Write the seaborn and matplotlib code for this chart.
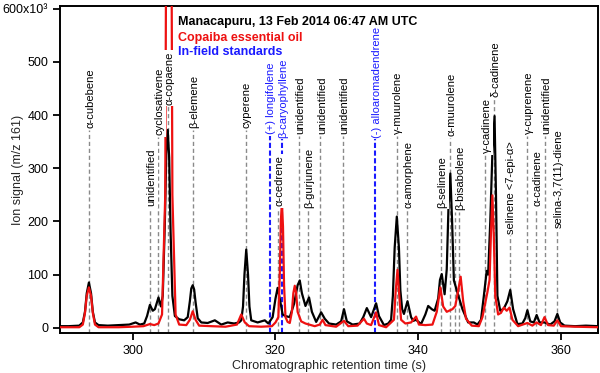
import matplotlib
matplotlib.use("Agg")
import matplotlib.pyplot as plt
import seaborn as sns

# Manacapuru chromatogram (m/z 161), signal in units of 10^3
t_air = [289.8, 291.0, 292.5, 293.0, 293.3, 293.55, 293.85, 294.15, 294.4, 294.7, 295.2, 296.5,
         298.0, 299.5, 300.4, 301.0, 301.6, 302.0, 302.4, 302.8, 303.1, 303.6, 303.95, 304.2,
         304.5, 304.7, 304.9, 305.1, 305.3, 305.55, 305.9, 306.5, 307.2, 307.7, 308.0, 308.2,
         308.4, 308.6, 308.8, 309.1, 309.6, 310.5, 311.5, 312.4, 313.3, 314.2, 314.9, 315.2,
         315.45, 315.65, 315.9, 316.15, 316.35, 316.6, 317.5, 318.5, 319.0, 319.6, 320.0, 320.3,
         320.6, 321.0, 321.4, 322.0, 322.6, 323.1, 323.4, 323.7, 324.2, 324.7, 325.1, 325.7,
         326.4, 326.9, 327.5, 328.5, 329.2, 329.6, 330.0, 330.8, 331.8, 332.3, 332.8, 333.4,
         333.8, 334.1, 334.5, 335.2, 335.8, 336.2, 336.45, 336.7, 337.0, 337.3, 337.5, 337.75,
         338.0, 338.5, 339.0, 339.3, 339.7, 340.4, 341.0, 341.4, 341.9, 342.3, 342.8, 343.05,
         343.3, 343.7, 344.0, 344.25, 344.5, 344.75, 345.0, 345.7, 346.2, 347.0, 347.8, 348.3,
         348.8, 349.2, 349.6, 349.8, 350.1, 350.4, 350.7, 350.9, 351.1, 351.5, 352.0, 352.5,
         352.9, 353.3, 353.9, 354.6, 355.0, 355.3, 355.7, 356.2, 356.6, 357.0, 357.7, 358.5,
         359.1, 359.5, 359.9, 360.5, 362.0, 363.5, 365.2]
sig_air = [3, 3, 4, 10, 30, 65, 85, 65, 30, 10, 5, 4,
           5, 6, 10, 6, 8, 22, 43, 32, 35, 57, 40, 60,
           200, 330, 372, 320, 180, 60, 22, 16, 14, 20, 50, 74,
           80, 72, 48, 18, 10, 9, 14, 6, 10, 8, 10, 14,
           40, 100, 147, 100, 40, 14, 10, 14, 8, 20, 55, 75,
           55, 25, 22, 20, 45, 80, 89, 65, 41, 57, 30, 11,
           29, 17, 8, 6, 12, 35, 12, 6, 8, 20, 37, 20,
           35, 46, 22, 5, 8, 15, 60, 150, 209, 150, 70, 35,
           26, 50, 20, 13, 15, 7, 25, 41, 35, 32, 55, 90,
           101, 63, 110, 230, 290, 200, 89, 57, 35, 10, 10, 6,
           15, 60, 107, 100, 200, 330, 398, 250, 60, 32, 36, 50,
           71, 35, 7, 8, 18, 33, 12, 10, 24, 10, 10, 6,
           12, 26, 10, 4, 3, 4, 3]

# Copaiba essential oil
t_oil = [289.8, 292.5, 293.0, 293.3, 293.55, 293.85, 294.15, 294.4, 294.7, 295.2, 298.0, 300.0,
         301.5, 302.4, 303.0, 303.6, 304.1, 304.55, 304.68, 305.05, 305.42, 305.55, 306.0, 306.5,
         307.5, 308.0, 308.4, 308.8, 309.3, 311.0, 313.0, 314.6, 315.2, 315.7, 316.3, 318.0,
         319.5, 320.0, 320.4, 320.6, 320.75, 320.9, 321.05, 321.2, 321.4, 321.7, 322.0, 322.3,
         322.5, 322.7, 322.9, 323.1, 323.6, 324.2, 325.5, 326.2, 326.6, 327.0, 328.5, 329.6,
         330.2, 331.5, 332.4, 332.8, 333.4, 334.1, 334.5, 335.5, 336.6, 336.85, 337.1, 337.35,
         337.6, 338.2, 339.0, 339.7, 340.1, 341.0, 342.0, 342.6, 343.1, 343.5, 344.0, 344.8,
         345.2, 345.6, 345.95, 346.3, 346.7, 347.5, 348.5, 349.0, 349.7, 350.0, 350.2, 350.4,
         350.6, 350.8, 351.2, 351.6, 352.0, 352.4, 352.8, 353.2, 354.0, 355.3, 356.0, 356.6,
         357.2, 357.7, 358.2, 359.0, 359.5, 360.0, 362.0, 365.2]
sig_oil = [1, 1, 6, 28, 60, 76, 60, 28, 6, 1, 1, 2,
           3, 7, 5, 8, 25, 250, 750, 950, 750, 250, 25, 6,
           5, 15, 31, 15, 4, 3, 2, 6, 25, 10, 3, 2,
           3, 10, 20, 100, 200, 236, 190, 80, 20, 11, 9, 30,
           65, 79, 65, 30, 12, 8, 3, 6, 15, 5, 2, 13,
           3, 4, 17, 8, 5, 29, 5, 1, 15, 70, 109, 60,
           15, 8, 10, 21, 6, 5, 6, 30, 76, 40, 30, 35,
           41, 70, 96, 50, 17, 4, 3, 20, 67, 90, 180, 249,
           170, 60, 25, 28, 38, 32, 38, 15, 3, 9, 4, 10,
           5, 20, 5, 4, 14, 3, 2, 1]

# compound markers: retention time, label bottom (10^3), name, in-field standard?
cmp_time = [293.85, 302.4, 303.5, 304.9, 308.4, 315.8, 319.2, 320.3, 320.9, 323.3,
            324.5, 326.3, 329.5, 334.0, 337.0, 338.4, 343.2, 344.5, 345.2, 345.7,
            349.4, 350.6, 352.8, 355.3, 356.5, 357.8, 359.5]
cmp_top = [375, 228, 362, 419, 375, 375, 364, 228, 357, 364,
           225, 364, 364, 357, 364, 226, 226, 360, 221, 221,
           328, 434, 177, 364, 228, 364, 187]
cmp_name = ["α-cubebene", "unidentified", "cyclosativene", "α-copaene", "β-elemene",
            "cyperene", "(+) longifolene", "α-cedrene", "β-caryophyllene", "unidentified",
            "β-gurjunene", "unidentified", "unidentified", "(-) alloaromadendrene",
            "γ-muurolene", "α-amorphene", "β-selinene", "α-muurolene", "", "β-bisabolene",
            "γ-cadinene", "δ-cadinene", "selinene <7-epi-α>", "γ-cuprenene", "α-cadinene",
            "unidentified", "selina-3,7(11)-diene"]
cmp_std = [False, False, False, False, False, False, True, False, True, False,
           False, False, False, True, False, False, False, False, False, False,
           False, False, False, False, False, False, False]

y_ticks = [0, 100, 200, 300, 400, 500, 600]
y_ticklabels = ["0", "100", "200", "300", "400", "500", "600x10³"]
x_ticks = [300, 320, 340, 360]

sns.set_theme(style="ticks")
plt.rcParams["font.family"] = ["Liberation Sans", "DejaVu Sans"]

fig = plt.figure(figsize=(6, 3.73), dpi=100)
ax = fig.add_axes([0.1, 0.107, 0.8967, 0.877])

ymin, ymax = -10, 605
blue = "#1a1aff"

# marker lines + labels
for t, top, name, std in zip(cmp_time, cmp_top, cmp_name, cmp_std):
    if std:
        ax.vlines(t, ymin, top - 3, colors=blue, linestyles=(0, (2.5, 1.2)), lw=1.5, zorder=1)
    else:
        ax.vlines(t, ymin, top - 3, colors="#8a8a8a", linestyles=(0, (3, 2)), lw=1.0, zorder=1)
    if name:
        ax.text(t + 0.2, top, name, rotation=90, ha="center", va="bottom", fontsize=8,
                color=blue if std else "black", zorder=5,
                bbox=dict(facecolor="white", edgecolor="none", pad=1.0))

sns.lineplot(x=t_air, y=sig_air, color="black", lw=1.6, ax=ax, zorder=3)
sns.lineplot(x=t_oil, y=sig_oil, color="#ee1111", lw=1.6, ax=ax, zorder=4)

ax.set_xlim(289.8, 365.2)
ax.set_ylim(ymin, ymax)
ax.set_xticks(x_ticks)
ax.set_yticks(y_ticks)
ax.set_yticklabels(y_ticklabels)
ax.tick_params(direction="out", length=5, width=1.3, labelsize=9, colors="black")
for s in ax.spines.values():
    s.set_visible(True)
    s.set_linewidth(1.4)
    s.set_color("black")

ax.set_xlabel("Chromatographic retention time (s)", fontsize=9, labelpad=2)
ax.set_ylabel("Ion signal (m/z 161)", fontsize=9)
ax.yaxis.set_label_coords(-0.067, 0.5)

ax.text(0.219, 0.951, "Manacapuru, 13 Feb 2014 06:47 AM UTC", transform=ax.transAxes,
        fontsize=9, fontweight="bold", color="black", va="center", ha="left", zorder=6)
ax.text(0.219, 0.902, "Copaiba essential oil", transform=ax.transAxes,
        fontsize=9, fontweight="bold", color="#ee1111", va="center", ha="left", zorder=6)
ax.text(0.219, 0.859, "In-field standards", transform=ax.transAxes,
        fontsize=9, fontweight="bold", color=blue, va="center", ha="left", zorder=6)

fig.savefig("out.png", dpi=100)
